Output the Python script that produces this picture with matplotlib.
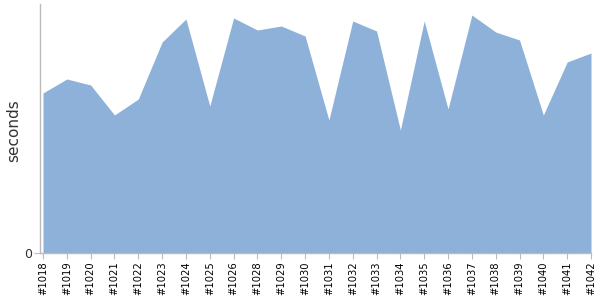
import matplotlib
matplotlib.use('Agg')
from matplotlib import pyplot as plt

# build labels and durations
builds = ['#1018', '#1019', '#1020', '#1021', '#1022', '#1023', '#1024', '#1025',
          '#1026', '#1028', '#1029', '#1030', '#1031', '#1032', '#1033', '#1034',
          '#1035', '#1036', '#1037', '#1038', '#1039', '#1040', '#1041', '#1042']
seconds = [160, 174, 168, 138, 154, 211, 234, 147, 235, 223, 227, 217,
           133, 232, 222, 123, 232, 144, 238, 221, 213, 138, 191, 200]

fig = plt.figure(figsize=(6, 3), dpi=100)
ax = fig.add_axes([40/600, 1-253/300, 551/600, 249/300])

x = range(len(builds))
ax.fill_between(x, seconds, 0, color='#8EB1DA', linewidth=0)

ax.set_xlim(-0.126, len(builds) - 1)
ax.set_ylim(0, 249)
ax.set_yticks([0])
ax.set_xticks(list(x))
ax.set_xticklabels(builds, rotation=90, fontsize=7.2)
ax.tick_params(axis='y', length=4, color='#bbbbbb', labelsize=9, labelcolor='#333333', pad=2)
ax.tick_params(axis='x', length=4, color='#bbbbbb', pad=2)
ax.set_ylabel('seconds', fontsize=11, color='#333333')
ax.yaxis.set_label_coords(-19/551, 0.49)

for s in ['top', 'right']:
    ax.spines[s].set_visible(False)
for s in ['left', 'bottom']:
    ax.spines[s].set_color('#bbbbbb')
    ax.spines[s].set_linewidth(1)

fig.savefig('out.png')
